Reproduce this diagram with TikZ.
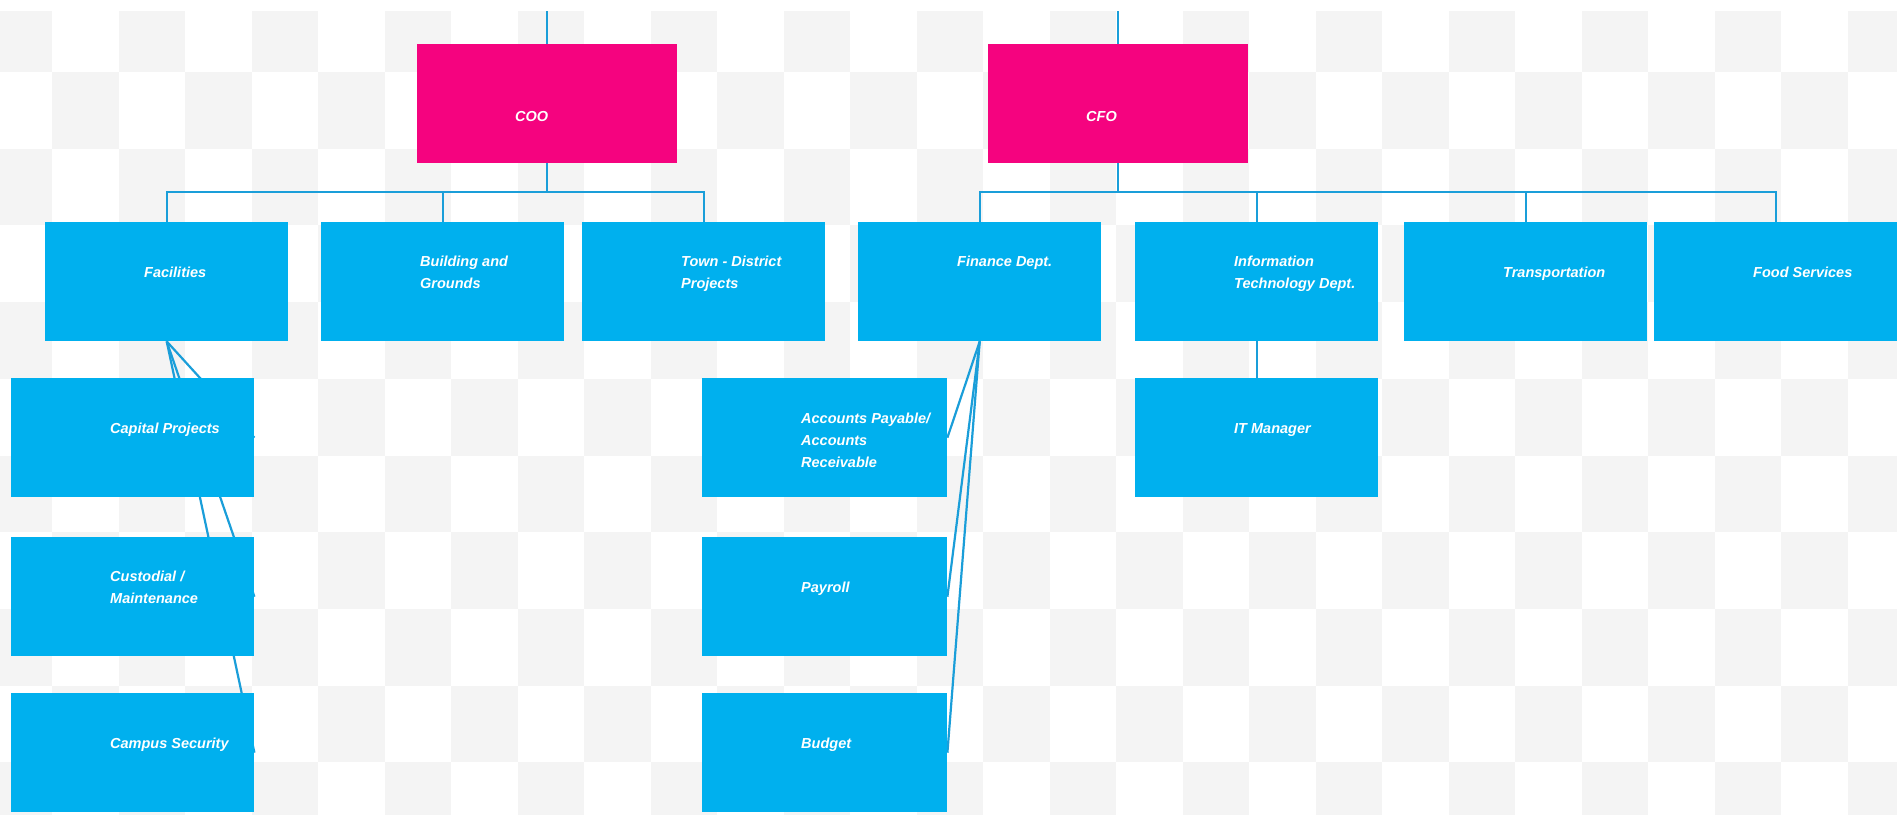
\documentclass[tikz,border=0pt]{standalone}
\usepackage{fontspec}
\setmainfont{Liberation Sans}
\usetikzlibrary{calc}
\pgfdeclarelayer{bg}
\pgfdeclarelayer{wires}
\pgfsetlayers{bg,wires,main}
\definecolor{cyanbox}{HTML}{00B0EE}
\definecolor{pinkbox}{HTML}{F5037F}
\definecolor{wirecol}{HTML}{1A9ED9}
\definecolor{checker}{HTML}{F4F4F4}
\tikzset{
  dept/.style={rectangle, fill=cyanbox, inner sep=0pt, minimum width=243pt, minimum height=119pt, anchor=north west},
  exec/.style={rectangle, fill=pinkbox, inner sep=0pt, minimum width=260pt, minimum height=119pt, anchor=north west},
  wire/.style={draw=wirecol, line width=2.2pt},
  lbl/.style={text=white, font=\fontsize{14.5}{22}\selectfont\bfseries\itshape, inner sep=0pt, align=left, anchor=north west},
}
\begin{document}
\begin{tikzpicture}[x=1pt,y=-1pt]
\useasboundingbox (0,0) rectangle (1897,814);
\begin{pgfonlayer}{bg}
  \fill[white] (0,0) rectangle (1897,814);
  \begin{scope}
    \clip (0,11) rectangle (1897,814);
    \foreach \c in {0,...,28} {
      \foreach \r in {0,...,10} {
        \pgfmathtruncatemacro\pty{mod(\c+\r,2)}
        \ifnum\pty=0
          \fill[checker] ({52+66.5*(\c-1)},{72+76.7*(\r-1)}) rectangle ({52+66.5*\c},{72+76.7*\r});
        \fi
      }
    }
  \end{scope}
\end{pgfonlayer}

% executives
\node[exec] (coo) at (417,44) {};
\node[exec] (cfo) at (988,44) {};
% departments
\node[dept] (fac) at (45,222) {};
\node[dept] (bng) at (321,222) {};
\node[dept] (town) at (582,222) {};
\node[dept] (fin) at (858,222) {};
\node[dept] (it) at (1135,222) {};
\node[dept] (trans) at (1404,222) {};
\node[dept] (food) at (1654,222) {};
% sub units
\node[dept] (cap) at (11,378) {};
\node[dept] (cust) at (11,537) {};
\node[dept] (camp) at (11,693) {};
\node[dept, minimum width=245pt] (ap) at (702,378) {};
\node[dept, minimum width=245pt] (pay) at (702,537) {};
\node[dept, minimum width=245pt] (bud) at (702,693) {};
\node[dept] (itm) at (1135,378) {};

% labels
\node[lbl] (tcoo) at ($(coo.north west)+(98,67)$) {COO};
\node[lbl] (tcfo) at ($(cfo.north west)+(98,67)$) {CFO};
\node[lbl] (tfac) at ($(fac.north west)+(99,45)$) {Facilities};
\node[lbl] (tbng) at ($(bng.north west)+(99,34)$) {Building and\\Grounds};
\node[lbl] (ttown) at ($(town.north west)+(99,34)$) {Town - District\\Projects};
\node[lbl] (tfin) at ($(fin.north west)+(99,34)$) {Finance Dept.};
\node[lbl] (tit) at ($(it.north west)+(99,34)$) {Information\\Technology Dept.};
\node[lbl] (ttrans) at ($(trans.north west)+(99,45)$) {Transportation};
\node[lbl] (tfood) at ($(food.north west)+(99,45)$) {Food Services};
\node[lbl] (tcap) at ($(cap.north west)+(99,45)$) {Capital Projects};
\node[lbl] (tcust) at ($(cust.north west)+(99,34)$) {Custodial /\\Maintenance};
\node[lbl] (tcamp) at ($(camp.north west)+(99,45)$) {Campus Security};
\node[lbl] (tap) at ($(ap.north west)+(99,35)$) {Accounts Payable/\\Accounts\\Receivable};
\node[lbl] (tpay) at ($(pay.north west)+(99,45)$) {Payroll};
\node[lbl] (tbud) at ($(bud.north west)+(99,45)$) {Budget};
\node[lbl] (titm) at ($(itm.north west)+(99,45)$) {IT Manager};

\coordinate (top) at (0,11);
\coordinate (bus) at (0,192);
\begin{pgfonlayer}{wires}
  \draw[wire] (coo.north) -- (coo.north |- top);
  \draw[wire] (cfo.north) -- (cfo.north |- top);
  \draw[wire] (coo.south) -- (coo.south |- bus);
  \draw[wire] (fac.north) |- (town.north |- bus) -- (town.north);
  \draw[wire] (bng.north) -- (bng.north |- bus);
  \draw[wire] (cfo.south) -- (cfo.south |- bus);
  \draw[wire] (fin.north) |- (food.north |- bus) -- (food.north);
  \draw[wire] (it.north) -- (it.north |- bus);
  \draw[wire] (trans.north) -- (trans.north |- bus);
  \draw[wire] (fac.south) -- (cap.east);
  \draw[wire] (fac.south) -- (cust.east);
  \draw[wire] (fac.south) -- (camp.east);
  \draw[wire] (fin.south) -- (ap.east);
  \draw[wire] (fin.south) -- (pay.east);
  \draw[wire] (fin.south) -- (bud.east);
  \draw[wire] (it.south) -- (itm.north);
\end{pgfonlayer}
\end{tikzpicture}
\end{document}
